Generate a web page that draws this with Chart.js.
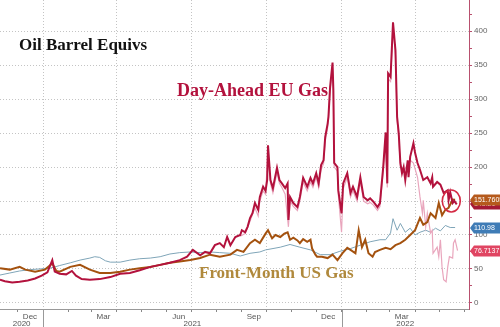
<!DOCTYPE html>
<html>
<head>
<meta charset="utf-8">
<script src="https://cdn.jsdelivr.net/npm/chart.js@4/dist/chart.umd.min.js"></script>
<style>
  html, body { margin: 0; padding: 0; background: #fff; }
  #wrap { width: 500px; height: 327px; }
</style>
</head>
<body>
<div id="wrap"><canvas id="equivs"></canvas></div>
<script>
// x values are days since 9 Nov 2020
const euDays = [0, 6, 15, 24, 34, 43, 51, 58, 64, 67, 73, 81, 88, 93, 100, 110, 122, 135, 147, 159, 171, 184, 196, 208, 220, 229, 236, 245, 251, 257, 263, 269, 274, 278, 282, 288, 294, 296, 300, 303, 306, 309, 312, 316, 318, 322, 325, 327, 328, 331, 334, 339, 342, 345, 349, 352, 353, 355, 359, 364, 367, 371, 376, 380, 383, 387, 390, 393, 396, 398, 401, 402, 404, 407, 408, 409, 413, 414, 418, 420, 425, 429, 432, 437, 441, 445, 450, 453, 457, 462, 465, 469, 472, 474, 475, 478, 481, 484, 486, 488, 490, 492, 494, 496, 499, 500, 502, 506, 508, 511, 514, 518, 523, 527, 529, 530, 535, 539, 543, 548, 549, 551, 554, 556, 559];
const euValues = [34, 32, 30, 31, 33, 36, 40, 45, 63, 46, 43, 42, 47, 40, 35, 34, 35, 38, 43, 44, 48, 53, 56, 59, 63, 68, 78, 70, 75, 73, 85, 88, 82, 97, 85, 97, 100, 107, 104, 112, 125, 132, 147, 137, 156, 171, 165, 181, 232, 181, 169, 199, 181, 176, 169, 176, 122, 156, 147, 141, 156, 184, 171, 184, 176, 191, 176, 203, 210, 244, 264, 274, 318, 354, 313, 206, 200, 166, 132, 176, 191, 162, 171, 156, 185, 156, 151, 154, 149, 141, 147, 200, 251, 176, 338, 333, 413, 372, 274, 250, 206, 191, 200, 181, 210, 185, 215, 235, 221, 206, 196, 181, 185, 176, 185, 171, 178, 174, 162, 166, 151, 163, 147, 150, 145];

// second EU contract, only shows from the late-summer 2021 run-up
const eu2Days = [294, 300, 306, 312, 316, 318, 322, 325, 328, 331, 334, 339, 342, 345, 349, 353, 355, 359, 364, 367, 371, 376, 380, 383, 387, 390, 393, 396, 398, 401, 404, 407, 408, 409, 413, 414, 418, 420, 425, 429, 432, 437, 441, 445, 450, 453, 457, 462, 465, 469, 472, 474, 475, 478, 481, 484, 486, 488, 490, 494, 499, 502, 506, 511, 514, 517, 518, 521, 523, 527, 529, 530, 535, 537, 539, 541, 543, 546, 548, 550, 554, 555, 557, 560];
const eu2Values = [98, 102, 120, 140, 128, 150, 165, 160, 225, 176, 162, 192, 176, 170, 160, 112, 150, 142, 136, 150, 178, 165, 178, 170, 185, 170, 196, 205, 238, 258, 310, 345, 305, 200, 194, 160, 104, 168, 185, 156, 165, 150, 178, 150, 146, 148, 144, 136, 142, 194, 245, 170, 330, 326, 405, 365, 268, 244, 200, 194, 204, 210, 206, 185, 156, 132, 151, 112, 132, 103, 107, 73, 82, 68, 93, 53, 34, 31, 53, 68, 66, 88, 93, 77];

const usDays = [0, 12, 24, 31, 43, 55, 64, 69, 73, 86, 98, 110, 122, 135, 147, 159, 171, 184, 196, 208, 220, 233, 245, 257, 269, 282, 290, 298, 306, 312, 318, 325, 328, 333, 337, 343, 348, 352, 355, 359, 364, 367, 371, 376, 380, 382, 386, 388, 394, 401, 407, 413, 419, 425, 429, 435, 439, 443, 447, 451, 456, 459, 465, 472, 478, 484, 490, 496, 502, 508, 514, 518, 523, 527, 533, 537, 541, 545, 549, 554, 557];
const usValues = [51, 49, 53, 49, 46, 49, 58, 47, 46, 53, 56, 49, 44, 44, 46, 49, 51, 53, 56, 59, 61, 63, 66, 71, 68, 71, 78, 75, 88, 93, 88, 102, 107, 95, 100, 97, 102, 104, 93, 96, 92, 88, 94, 90, 93, 80, 71, 68, 68, 66, 71, 63, 73, 81, 78, 73, 107, 82, 93, 73, 68, 75, 78, 81, 79, 85, 88, 93, 100, 107, 125, 115, 119, 132, 125, 147, 129, 137, 140, 152, 151.7605];

const oilDays = [0, 12, 24, 37, 49, 61, 73, 86, 98, 110, 116, 122, 129, 135, 147, 159, 171, 184, 196, 208, 220, 233, 245, 257, 269, 282, 294, 306, 318, 325, 343, 355, 361, 367, 380, 392, 404, 416, 429, 441, 453, 465, 472, 478, 481, 486, 490, 496, 502, 508, 514, 521, 527, 533, 539, 545, 551, 557];
const oilValues = [41, 44, 47, 49, 50, 51, 55, 59, 63, 66, 68, 67, 62, 60, 60, 63, 65, 66, 68, 72, 74, 75, 74, 75, 74, 73, 69, 73, 75, 78, 82, 86, 84, 82, 78, 71, 71, 76, 80, 85, 90, 93, 93, 103, 124, 107, 117, 104, 110, 100, 104, 107, 104, 110, 106, 114, 111, 110.98];

const lastEu = 145.21;
const lastEu2 = 76.7137;

// axis marks, in days since 9 Nov 2020
const monthStarts = [22, 53, 84, 112, 143, 173, 204, 234, 265, 296, 326, 357, 387, 418, 449, 477, 508, 538, 569];
const monthNames = ['Dec', 'Jan', 'Feb', 'Mar', 'Apr', 'May', 'Jun', 'Jul', 'Aug', 'Sep', 'Oct', 'Nov', 'Dec', 'Jan', 'Feb', 'Mar', 'Apr', 'May', 'Jun'];
const labelledMonths = [22, 112, 204, 296, 387, 477];
const quarterStarts = [53, 143, 234, 326, 418, 508];
const yearLabels = ['2020', '2021', '2022'];
const yearStarts = [53, 418];
const yTicks = [0, 25, 50, 75, 100, 125, 150, 175, 200, 225, 250, 275, 300, 325, 350, 375, 400, 425];

const zip = (xs, ys) => xs.map((d, i) => ({ x: d, y: ys[i] }));

const RED = '#b3123d';
const PINK = '#e9a6bd';
const BROWN = '#a4520f';
const BLUE = '#7fa5b8';
const AXIS = '#b8506e';

const overlay = {
  id: 'overlay',
  afterDatasetsDraw(chart) {
    const { ctx, scales: { x, y }, chartArea } = chart;
    ctx.save();

    // circle around the latest prints
    const cx = x.getPixelForValue(556) - 3;
    const cy = y.getPixelForValue(150);
    ctx.strokeStyle = '#d42a44';
    ctx.lineWidth = 1.6;
    ctx.beginPath();
    ctx.ellipse(cx, cy, 9, 11, 0, 0, Math.PI * 2);
    ctx.stroke();

    // last value tags on the right axis
    const tag = (value, text, bg) => {
      const py = Math.round(y.getPixelForValue(value));
      const left = chartArea.right + 1;
      ctx.fillStyle = bg;
      ctx.beginPath();
      ctx.moveTo(left, py);
      ctx.lineTo(left + 4, py - 5.5);
      ctx.lineTo(510, py - 5.5);
      ctx.lineTo(510, py + 5.5);
      ctx.lineTo(left + 4, py + 5.5);
      ctx.closePath();
      ctx.fill();
      ctx.fillStyle = '#fff';
      ctx.font = '7px "Liberation Sans", sans-serif';
      ctx.textBaseline = 'middle';
      ctx.textAlign = 'left';
      ctx.fillText(text, left + 4, py + 0.5);
    };
    tag(lastEu, lastEu.toFixed(2), '#a51a35');
    tag(usValues[usValues.length - 1], '151.7605', '#b55a1c');
    tag(oilValues[oilValues.length - 1], '110.98', '#3f7cb6');
    tag(lastEu2, '76.7137', '#e04562');

    // year row under the month labels
    ctx.fillStyle = '#555';
    ctx.font = '8px "Liberation Sans", sans-serif';
    ctx.textAlign = 'center';
    ctx.textBaseline = 'middle';
    const bounds = [x.min].concat(yearStarts, [x.max]);
    yearLabels.forEach((lbl, i) => {
      const a = x.getPixelForValue(bounds[i]);
      const b = x.getPixelForValue(bounds[i + 1]);
      ctx.fillText(lbl, (a + b) / 2, chartArea.bottom + 15);
    });
    ctx.strokeStyle = '#999';
    ctx.lineWidth = 1;
    yearStarts.forEach(d => {
      const px = Math.round(x.getPixelForValue(d)) + 0.5;
      ctx.beginPath();
      ctx.moveTo(px, chartArea.bottom);
      ctx.lineTo(px, chart.height);
      ctx.stroke();
    });

    // series names and heading
    ctx.textAlign = 'left';
    ctx.textBaseline = 'alphabetic';
    ctx.fillStyle = '#111';
    ctx.font = 'bold 17px "Liberation Serif", serif';
    ctx.fillText('Oil Barrel Equivs', 19, 50);
    ctx.fillStyle = RED;
    ctx.font = 'bold 18px "Liberation Serif", serif';
    ctx.fillText('Day-Ahead EU Gas', 177, 96);
    ctx.fillStyle = '#b0893c';
    ctx.font = 'bold 17px "Liberation Serif", serif';
    ctx.fillText('Front-Month US Gas', 199, 278);
    ctx.restore();
  }
};

new Chart(document.getElementById('equivs'), {
  type: 'line',
  data: {
    datasets: [
      { label: 'Day-Ahead EU Gas', data: zip(euDays, euValues), borderColor: RED, borderWidth: 2 },
      { label: 'Front-Month US Gas', data: zip(usDays, usValues), borderColor: BROWN, borderWidth: 2 },
      { label: 'EU Gas 2', data: zip(eu2Days, eu2Values), borderColor: PINK, borderWidth: 1.2 },
      { label: 'Oil', data: zip(oilDays, oilValues), borderColor: BLUE, borderWidth: 1 }
    ]
  },
  options: {
    responsive: true,
    maintainAspectRatio: false,
    animation: false,
    layout: { padding: 0 },
    elements: { point: { radius: 0 }, line: { tension: 0 } },
    plugins: { legend: { display: false }, tooltip: { enabled: false } },
    scales: {
      x: {
        type: 'linear',
        min: 0,
        max: 574,
        afterBuildTicks: s => { s.ticks = monthStarts.map(v => ({ value: v })); },
        afterFit: s => { s.height = 18; s.paddingLeft = 0; s.paddingRight = 0; },
        grid: {
          color: c => quarterStarts.includes(c.tick && c.tick.value) ? '#c4c4c4' : 'transparent',
          tickColor: '#888',
          tickLength: 3,
          drawOnChartArea: true
        },
        border: { color: '#999', dash: [1, 2] },
        ticks: {
          autoSkip: false,
          maxRotation: 0,
          labelOffset: 12,
          padding: 0,
          color: '#555',
          font: { size: 8, family: 'Liberation Sans' },
          callback: (v, i) => labelledMonths.includes(v) && v < 560 ? monthNames[i] : ''
        }
      },
      y: {
        position: 'right',
        min: -9,
        max: 446,
        afterBuildTicks: s => { s.ticks = yTicks.map(v => ({ value: v })); },
        afterFit: s => { s.width = 31; s.paddingTop = 0; s.paddingBottom = 0; },
        grid: {
          color: c => (c.tick && c.tick.value % 50 === 0) ? '#c4c4c4' : 'transparent',
          tickColor: AXIS,
          tickLength: 3
        },
        border: { color: AXIS, dash: [1, 2] },
        ticks: {
          padding: 2,
          color: '#666',
          font: { size: 8, family: 'Liberation Sans' },
          callback: v => v % 50 === 0 ? v : ''
        }
      }
    }
  },
  plugins: [overlay]
});
</script>
</body>
</html>
